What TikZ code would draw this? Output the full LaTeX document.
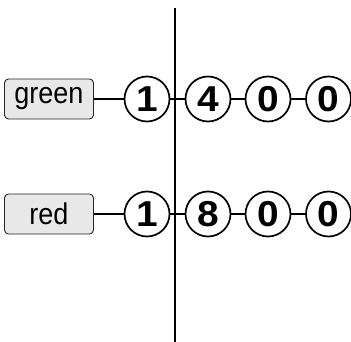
\documentclass[tikz,border=0pt]{standalone}
\usepackage{fontspec}
\setmainfont{Liberation Sans}
\begin{document}
\begin{tikzpicture}[x=1pt,y=-1pt,
  labelbox/.style={draw=black!85, line width=0.9pt, fill=black!9, rounded corners=4pt,
    minimum width=89pt, minimum height=40pt, inner sep=0pt,
    font=\fontsize{30}{32}\selectfont},
  digit/.style={circle, draw, line width=1.7pt, minimum size=45pt, inner sep=0pt,
    font=\fontsize{36}{40}\selectfont\bfseries},
  link/.style={line width=1.4pt}]
\useasboundingbox (0,0) rectangle (351,342);
\coordinate (top) at (175,8);
\coordinate (bot) at (175,342);
\draw[line width=1.8pt] (top) -- (bot);

\node[labelbox] (g) at (49,99) {\scalebox{0.9}[1]{green}};
\node[digit] (g1) at (147,99) {\scalebox{1.08}[1]{1}};
\node[digit] (g2) at (208,99) {\scalebox{1.08}[1]{4}};
\node[digit] (g3) at (268,99) {\scalebox{1.08}[1]{0}};
\node[digit] (g4) at (328.5,99) {\scalebox{1.08}[1]{0}};
\draw[link] (g) -- (g1);
\draw[link] (g1) -- (g2);
\draw[link] (g2) -- (g3);
\draw[link] (g3) -- (g4);

\node[labelbox] (r) at (49,214) {\scalebox{0.9}[1]{red}};
\node[digit] (r1) at (147,214) {\scalebox{1.08}[1]{1}};
\node[digit] (r2) at (208,214) {\scalebox{1.08}[1]{8}};
\node[digit] (r3) at (268,214) {\scalebox{1.08}[1]{0}};
\node[digit] (r4) at (328.5,214) {\scalebox{1.08}[1]{0}};
\draw[link] (r) -- (r1);
\draw[link] (r1) -- (r2);
\draw[link] (r2) -- (r3);
\draw[link] (r3) -- (r4);
\end{tikzpicture}
\end{document}
